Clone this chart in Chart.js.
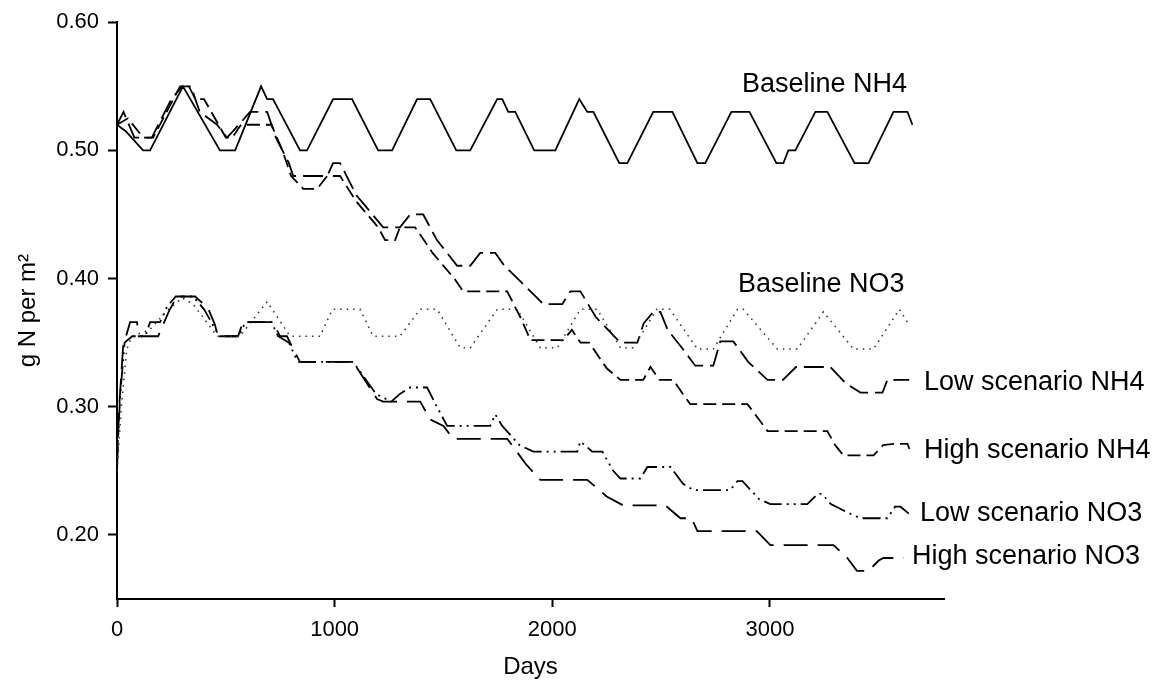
<!DOCTYPE html>
<html>
<head>
<meta charset="utf-8">
<script src="https://cdn.jsdelivr.net/npm/chart.js@4.4.0/dist/chart.umd.min.js"></script>
<style>
    html, body { margin: 0; padding: 0; background: #fff; }
</style>
</head>
<body>
<canvas id="nChart" width="1161" height="687"></canvas>
<script>
// Series values, [day, g N per m2]
const baselineNH4 = [[0,0.52],[40,0.515],[120,0.50],[152,0.50],[303,0.55],[473,0.50],[543,0.50],[662,0.55],[690,0.54],[717,0.54],[841,0.50],[873,0.50],[993,0.54],[1080,0.54],[1200,0.50],[1264,0.50],[1379,0.54],[1439,0.54],[1559,0.50],[1623,0.50],[1747,0.54],[1770,0.54],[1798,0.53],[1830,0.53],[1917,0.50],[2014,0.50],[2124,0.54],[2161,0.53],[2189,0.53],[2308,0.49],[2345,0.49],[2464,0.53],[2552,0.53],[2667,0.49],[2703,0.49],[2823,0.53],[2906,0.53],[3030,0.49],[3062,0.49],[3085,0.50],[3117,0.50],[3209,0.53],[3264,0.53],[3389,0.49],[3453,0.49],[3568,0.53],[3632,0.53],[3655,0.52]];
const baselineNO3 = [[0,0.25],[20,0.30],[45,0.345],[69,0.355],[150,0.36],[230,0.375],[300,0.385],[350,0.38],[460,0.355],[565,0.355],[690,0.382],[795,0.355],[933,0.355],[990,0.376],[1117,0.376],[1177,0.355],[1300,0.355],[1393,0.376],[1471,0.376],[1577,0.346],[1623,0.346],[1747,0.376],[1839,0.376],[1945,0.346],[2023,0.346],[2129,0.376],[2207,0.376],[2313,0.346],[2372,0.346],[2480,0.376],[2540,0.376],[2667,0.345],[2740,0.345],[2851,0.376],[2878,0.376],[3034,0.345],[3126,0.345],[3246,0.374],[3384,0.345],[3476,0.345],[3595,0.376],[3632,0.366]];
const lowNH4 = [[0,0.52],[30,0.53],[80,0.51],[160,0.51],[250,0.54],[300,0.55],[340,0.55],[380,0.53],[460,0.52],[505,0.51],[533,0.515],[560,0.52],[611,0.53],[690,0.53],[730,0.51],[790,0.49],[810,0.48],[860,0.48],[966,0.48],[993,0.49],[1025,0.49],[1100,0.465],[1223,0.44],[1300,0.44],[1347,0.45],[1407,0.45],[1470,0.43],[1563,0.41],[1623,0.41],[1669,0.42],[1738,0.42],[1780,0.41],[1900,0.39],[1959,0.38],[2046,0.38],[2083,0.39],[2129,0.39],[2200,0.37],[2313,0.35],[2391,0.35],[2420,0.365],[2464,0.374],[2497,0.374],[2530,0.36],[2600,0.345],[2657,0.332],[2740,0.332],[2772,0.351],[2832,0.351],[2900,0.335],[2989,0.321],[3060,0.321],[3120,0.331],[3278,0.331],[3350,0.318],[3416,0.311],[3517,0.311],[3540,0.321],[3640,0.321]];
const highNH4 = [[0,0.52],[50,0.525],[120,0.51],[166,0.51],[290,0.55],[330,0.55],[360,0.54],[400,0.54],[500,0.51],[530,0.51],[570,0.52],[710,0.52],[760,0.50],[800,0.48],[856,0.47],[920,0.47],[966,0.48],[1025,0.48],[1100,0.46],[1200,0.44],[1232,0.43],[1278,0.43],[1300,0.44],[1370,0.44],[1450,0.42],[1550,0.40],[1591,0.39],[1793,0.39],[1853,0.37],[1900,0.352],[2051,0.352],[2090,0.36],[2130,0.35],[2170,0.35],[2250,0.33],[2313,0.321],[2418,0.321],[2451,0.331],[2492,0.321],[2556,0.321],[2600,0.31],[2634,0.302],[2897,0.302],[2950,0.29],[2989,0.281],[3264,0.281],[3300,0.27],[3338,0.262],[3476,0.262],[3520,0.27],[3568,0.271],[3632,0.271],[3646,0.265]];
const lowNO3 = [[0,0.26],[15,0.31],[35,0.35],[70,0.355],[130,0.355],[152,0.366],[198,0.366],[230,0.378],[270,0.386],[350,0.386],[400,0.376],[440,0.364],[470,0.355],[560,0.355],[590,0.366],[710,0.366],[740,0.355],[790,0.35],[830,0.335],[1085,0.335],[1190,0.31],[1260,0.304],[1300,0.31],[1347,0.315],[1425,0.315],[1470,0.30],[1517,0.285],[1715,0.285],[1738,0.294],[1770,0.285],[1850,0.27],[1913,0.265],[2115,0.265],[2129,0.273],[2184,0.265],[2230,0.265],[2280,0.25],[2313,0.244],[2405,0.244],[2437,0.253],[2543,0.253],[2600,0.24],[2648,0.235],[2818,0.235],[2851,0.242],[2874,0.242],[2950,0.228],[3002,0.224],[3172,0.224],[3220,0.232],[3240,0.232],[3280,0.224],[3350,0.218],[3416,0.213],[3540,0.213],[3575,0.222],[3600,0.222],[3650,0.215]];
const highNO3 = [[0,0.25],[10,0.30],[28,0.347],[60,0.366],[92,0.366],[100,0.355],[189,0.355],[240,0.375],[276,0.386],[359,0.386],[418,0.377],[450,0.364],[464,0.355],[556,0.355],[579,0.366],[717,0.366],[749,0.355],[781,0.355],[809,0.345],[841,0.335],[1085,0.335],[1195,0.306],[1223,0.304],[1393,0.304],[1440,0.29],[1500,0.285],[1545,0.275],[1793,0.275],[1880,0.255],[1945,0.243],[2161,0.243],[2250,0.23],[2326,0.223],[2520,0.223],[2589,0.213],[2640,0.213],[2667,0.203],[2940,0.203],[3002,0.192],[3292,0.192],[3356,0.182],[3400,0.172],[3453,0.172],[3500,0.18],[3522,0.182],[3614,0.182]];

const seriesNames = ['Baseline NH4', 'Baseline NO3', 'Low scenario NH4', 'High scenario NH4', 'Low scenario NO3', 'High scenario NO3'];
const xTicks = [0, 1000, 2000, 3000];
const yTicks = [0.20, 0.30, 0.40, 0.50, 0.60];

const FONT = '"Liberation Sans", Arial, sans-serif';

// where each series name sits, in data units [day, value]
const labelAnchors = [[2872, 0.551], [2853, 0.3956], [3708, 0.3187], [3708, 0.2658], [3690, 0.2169], [3653, 0.1835]];

const lineLabels = {
    id: 'lineLabels',
    afterDatasetsDraw(chart) {
        const { ctx, scales: { x, y } } = chart;
        ctx.save();
        ctx.font = `27px ${FONT}`;
        ctx.fillStyle = '#000';
        ctx.textBaseline = 'middle';
        labelAnchors.forEach((a, i) => {
            ctx.fillText(seriesNames[i], x.getPixelForValue(a[0]), y.getPixelForValue(a[1]));
        });
        ctx.restore();
    }
};

class NitrogenChart {
    constructor() {
        this.chart = null;
        this.init();
    }

    init() {
        const ctx = document.getElementById('nChart').getContext('2d');
        this.chart = new Chart(ctx, {
            type: 'line',
            data: { datasets: this.buildDatasets() },
            options: this.buildOptions(),
            plugins: [lineLabels]
        });
    }

    buildDatasets() {
        const series = [baselineNH4, baselineNO3, lowNH4, highNH4, lowNO3, highNO3];
        const dashes = [[], [1.5, 5], [20, 7], [13, 6], [18, 5, 2, 5, 2, 5], [24, 10]];
        return series.map((points, i) => ({
            label: seriesNames[i],
            data: points.map(p => ({ x: p[0], y: p[1] })),
            borderColor: i === 1 ? '#333' : '#000',
            borderWidth: i === 1 ? 1.6 : 1.8,
            borderDash: dashes[i],
            pointRadius: 0,
            tension: 0,
            fill: false
        }));
    }

    buildOptions() {
        return {
            responsive: false,
            animation: false,
            devicePixelRatio: 1,
            layout: { padding: { top: 20, right: 217, left: 0, bottom: 0 } },
            plugins: { legend: { display: false }, tooltip: { enabled: false } },
            scales: {
                x: {
                    type: 'linear',
                    min: 0,
                    max: 3800,
                    afterBuildTicks: (scale) => { scale.ticks = xTicks.map(v => ({ value: v })); },
                    afterFit: (scale) => { scale.height = 88; },
                    border: { display: true, color: '#000', width: 2 },
                    grid: { drawOnChartArea: false, drawTicks: true, tickLength: 8, color: '#000', tickWidth: 2 },
                    ticks: {
                        color: '#000',
                        font: { family: FONT, size: 22 },
                        padding: 10,
                        maxRotation: 0,
                        callback: (v) => String(v)
                    },
                    title: { display: true, text: 'Days', color: '#000', font: { family: FONT, size: 24 }, padding: { top: 0, bottom: 5 } }
                },
                y: {
                    min: 0.15,
                    max: 0.60,
                    afterBuildTicks: (scale) => { scale.ticks = yTicks.map(v => ({ value: v })); },
                    afterFit: (scale) => { scale.width = 117; },
                    border: { display: true, color: '#000', width: 2 },
                    grid: { drawOnChartArea: false, drawTicks: true, tickLength: 9, color: '#000', tickWidth: 2 },
                    ticks: {
                        color: '#000',
                        font: { family: FONT, size: 22 },
                        padding: 9,
                        callback: (v) => v.toFixed(2)
                    },
                    title: { display: true, text: 'g N per m²', color: '#000', font: { family: FONT, size: 24 }, padding: { top: 14, bottom: 0 } }
                }
            }
        };
    }
}

new NitrogenChart();
</script>
</body>
</html>
